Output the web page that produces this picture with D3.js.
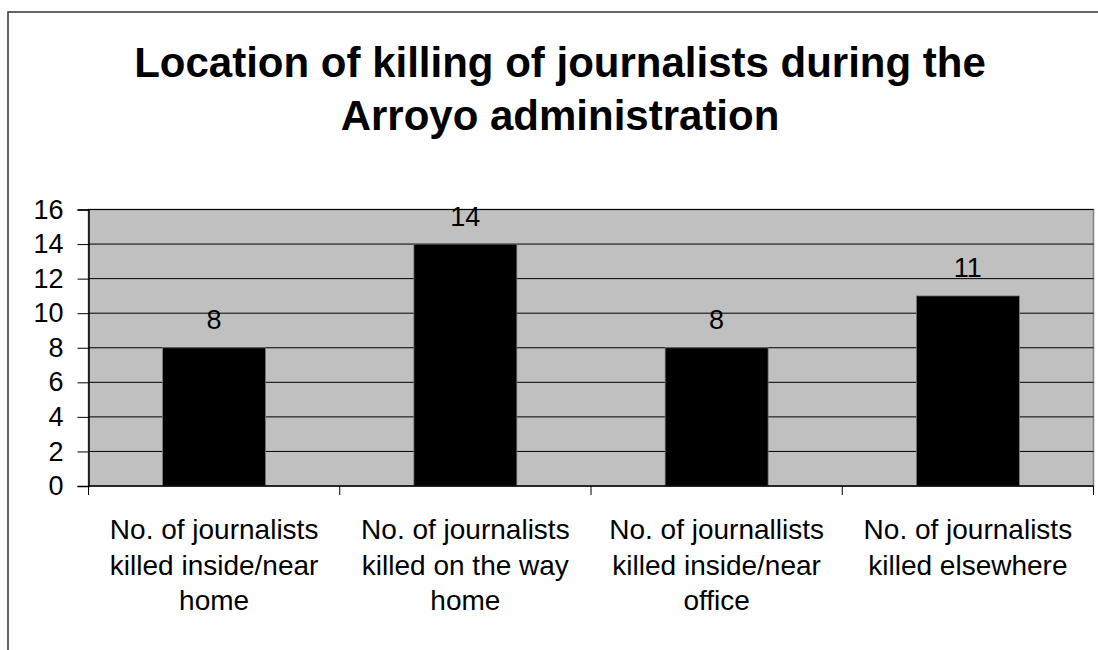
<!DOCTYPE html>
<html>
<head>
<meta charset="utf-8">
<script src="https://cdn.jsdelivr.net/npm/d3@7"></script>
<style>
  body { margin: 0; background: #fff; }
  text { font-family: "Liberation Sans", Arial, sans-serif; }
</style>
</head>
<body>
<div id="vis"></div>
<script>
const categories = [
  ['No. of journalists', 'killed inside/near', 'home'],
  ['No. of journalists', 'killed on the way', 'home'],
  ['No. of journallists', 'killed inside/near', 'office'],
  ['No. of journalists', 'killed elsewhere']
]
const values = [8, 14, 8, 11]
const yTicks = [0, 2, 4, 6, 8, 10, 12, 14, 16]
const titleLines = ['Location of killing of journalists during the', 'Arroyo administration']

const W = 1098, H = 650
const plot = { left: 88.5, right: 1093.5, top: 209.5, bottom: 486 }

const svg = d3.select('#vis').append('svg')
  .attr('width', W)
  .attr('height', H)

// outer chart border (only left/top visible)
svg.append('rect')
  .attr('x', 8).attr('y', 12)
  .attr('width', 1200).attr('height', 800)
  .attr('fill', 'none')
  .attr('stroke', '#333')
  .attr('stroke-width', 1.5)

svg.append('g')
  .selectAll('text')
  .data(titleLines)
  .enter()
  .append('text')
  .attr('x', 560)
  .attr('y', (d, i) => 77 + i * 53)
  .attr('text-anchor', 'middle')
  .attr('font-size', 42)
  .attr('font-weight', 'bold')
  .text(d => d)

const x = d3.scaleBand()
  .domain(d3.range(values.length))
  .range([plot.left, plot.right])
  .paddingInner(0.59)
  .paddingOuter(0.295)

const xOuter = d3.scaleBand()
  .domain(d3.range(values.length))
  .range([plot.left, plot.right])

const y = d3.scaleLinear()
  .domain([0, 16])
  .range([plot.bottom, plot.top])

svg.append('rect')
  .attr('x', plot.left).attr('y', plot.top)
  .attr('width', plot.right - plot.left)
  .attr('height', plot.bottom - plot.top)
  .attr('fill', '#c0c0c0')
  .attr('stroke', '#808080')
  .attr('stroke-width', 1.5)

// gridlines
svg.append('g')
  .selectAll('line')
  .data(yTicks.slice(1))
  .enter()
  .append('line')
  .attr('x1', plot.left).attr('x2', plot.right)
  .attr('y1', d => y(d)).attr('y2', d => y(d))
  .attr('stroke', '#000')
  .attr('stroke-width', 1)

svg.append('g')
  .selectAll('rect')
  .data(values)
  .enter()
  .append('rect')
  .attr('x', (d, i) => x(i))
  .attr('y', d => y(d))
  .attr('width', x.bandwidth())
  .attr('height', d => y(0) - y(d))
  .attr('fill', '#000')
  .attr('stroke', '#808080')
  .attr('stroke-width', 0.75)

svg.append('g')
  .selectAll('text')
  .data(values)
  .enter()
  .append('text')
  .attr('x', (d, i) => x(i) + x.bandwidth() / 2)
  .attr('y', d => y(d) - 18.5)
  .attr('text-anchor', 'middle')
  .attr('font-size', 27)
  .text(d => d)

// y axis
const yAxis = svg.append('g')
  .attr('transform', `translate(${plot.left},0)`)
  .call(d3.axisLeft(y).tickValues(yTicks).tickSize(11).tickPadding(14))
yAxis.select('.domain').attr('stroke', '#000').attr('stroke-width', 1.5)
yAxis.selectAll('.tick line').attr('stroke', '#000')
yAxis.selectAll('.tick text')
  .attr('font-size', 27)
  .attr('font-family', '"Liberation Sans", Arial, sans-serif')
  .attr('fill', '#000')

// x axis
svg.append('line')
  .attr('x1', plot.left).attr('x2', plot.right)
  .attr('y1', plot.bottom).attr('y2', plot.bottom)
  .attr('stroke', '#000')
  .attr('stroke-width', 1.5)

svg.append('g')
  .selectAll('line')
  .data(d3.range(values.length + 1))
  .enter()
  .append('line')
  .attr('x1', i => i < values.length ? xOuter(i) : plot.right)
  .attr('x2', i => i < values.length ? xOuter(i) : plot.right)
  .attr('y1', plot.bottom)
  .attr('y2', plot.bottom + 9)
  .attr('stroke', '#000')

const cats = svg.append('g')
  .selectAll('text')
  .data(categories)
  .enter()
  .append('text')
  .attr('x', (d, i) => xOuter(i) + xOuter.bandwidth() / 2)
  .attr('y', 539)
  .attr('text-anchor', 'middle')
  .attr('font-size', 28)
cats.selectAll('tspan')
  .data((d, i) => d.map(line => ({ line, i })))
  .enter()
  .append('tspan')
  .attr('x', d => xOuter(d.i) + xOuter.bandwidth() / 2)
  .attr('dy', (d, j) => j === 0 ? 0 : 35.5)
  .text(d => d.line)
</script>
</body>
</html>
